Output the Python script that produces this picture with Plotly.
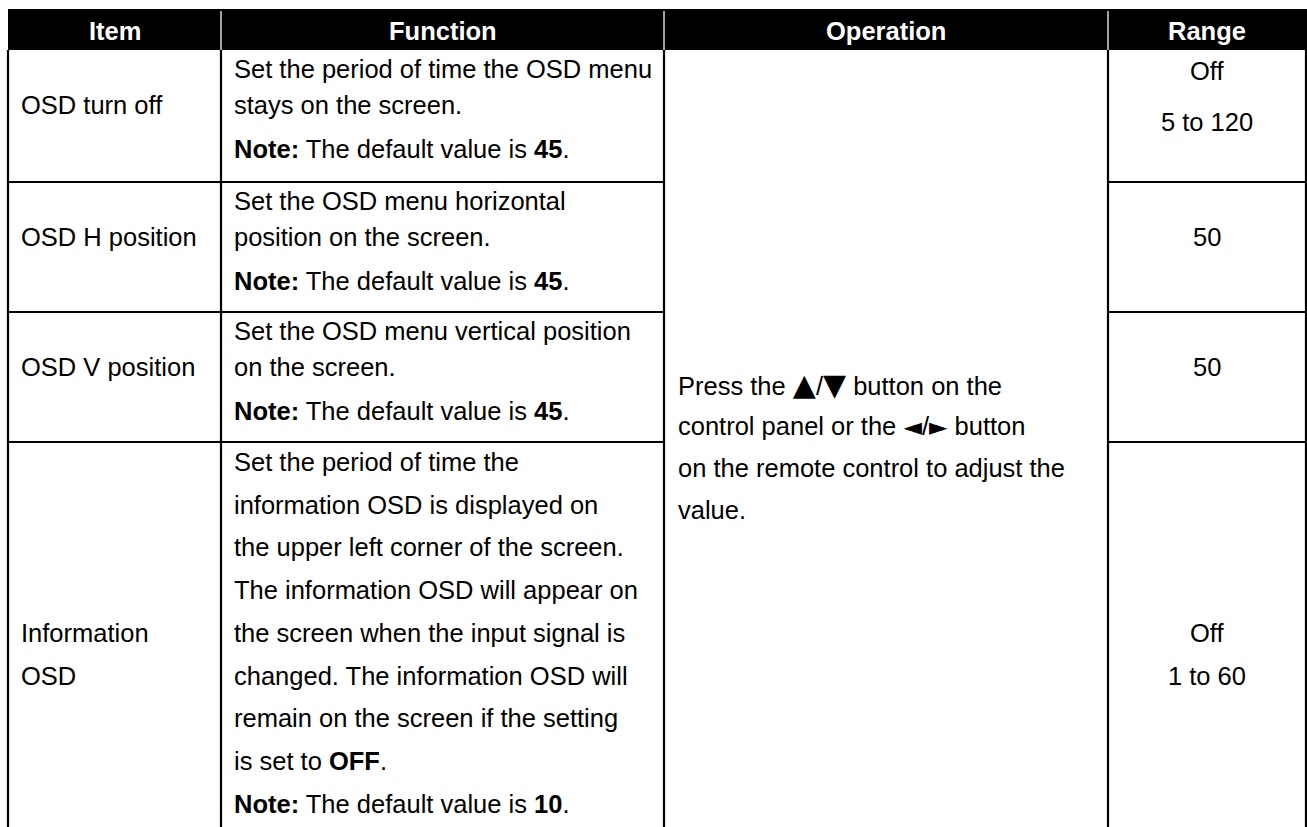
import plotly.graph_objects as go

# ---- data ----
headers = ["Item", "Function", "Operation", "Range"]
items = [["OSD turn off"], ["OSD H position"], ["OSD V position"], ["Information", "OSD"]]
functions = [
    ["Set the period of time the OSD menu", "stays on the screen.",
     "<b>Note:</b> The default value is <b>45</b>."],
    ["Set the OSD menu horizontal", "position on the screen.",
     "<b>Note:</b> The default value is <b>45</b>."],
    ["Set the OSD menu vertical position", "on the screen.",
     "<b>Note:</b> The default value is <b>45</b>."],
    ["Set the period of time the", "information OSD is displayed on",
     "the upper left corner of the screen.", "The information OSD will appear on",
     "the screen when the input signal is", "changed. The information OSD will",
     "remain on the screen if the setting", "is set to <b>OFF</b>.",
     "<b>Note:</b> The default value is <b>10</b>."],
]
up_down = ["▲", "▼"]
left_right = ["◄", "►"]
operation = ["Press the {a}/{b} button on the", "control panel or the {c}/{d} button",
             "on the remote control to adjust the", "value."]
ranges = [["Off", "5 to 120"], ["50"], ["50"], ["Off", "1 to 60"]]

# ---- layout geometry (styles); coordinates are page pixels ----
W, H = 1307, 827
cols = [8, 221, 664, 1108, 1306]
head_top, head_bot = 9, 50
row_bounds = [50, 182, 312, 442, 900]
FONT = "Liberation Sans, Arial, Helvetica, sans-serif"
FS = 25.5

small_rows = [19, 55, 99]                            # rows 1-3 (note has extra gap)
big_row = [20 + 42.7 * k for k in range(9)]          # row 4
item_y = [[55], [55], [55], [big_row[4], big_row[5]]]
range_y = [[21, 72], [55], [55], [big_row[4], big_row[5]]]
op_first_y, op_ls = 384, 42

shapes, annos = [], []

shapes.append(dict(type="rect", x0=cols[0], x1=W + 2, y0=head_top, y1=head_bot,
                   fillcolor="black", line=dict(width=0), layer="below"))
for cx in cols[1:4]:
    shapes.append(dict(type="line", x0=cx, x1=cx, y0=head_top + 2, y1=head_bot,
                       line=dict(color="#d9d9d9", width=1.5)))
for i, h in enumerate(headers):
    annos.append(dict(x=(cols[i] + cols[i + 1]) / 2, y=(head_top + head_bot) / 2 + 1,
                      text=f"<b>{h}</b>", showarrow=False, xanchor="center", yanchor="middle",
                      font=dict(family=FONT, size=FS, color="white")))

for cx in cols:
    shapes.append(dict(type="line", x0=cx, x1=cx, y0=head_bot, y1=H + 20,
                       line=dict(color="black", width=2.2)))
for yb in row_bounds[1:4]:
    shapes.append(dict(type="line", x0=cols[0], x1=cols[2], y0=yb, y1=yb,
                       line=dict(color="black", width=2.2)))
    shapes.append(dict(type="line", x0=cols[3], x1=cols[4], y0=yb, y1=yb,
                       line=dict(color="black", width=2.2)))

def txt(x, y, t, anchor="left"):
    annos.append(dict(x=x, y=y, text=t, showarrow=False, xanchor=anchor, yanchor="middle",
                      font=dict(family=FONT, size=FS, color="black")))

for r in range(4):
    top = row_bounds[r]
    offs = small_rows if r < 3 else big_row
    for k, t in enumerate(functions[r]):
        txt(cols[1] + 11, top + offs[k], t)
    for t, dy in zip(items[r], item_y[r]):
        txt(cols[0] + 11, top + dy, t)
    for t, dy in zip(ranges[r], range_y[r]):
        txt((cols[3] + cols[4]) / 2, top + dy, t, "center")

def glyph(g, size):
    return f'<span style="font-size:{size}px;font-family:DejaVu Sans">{g}</span>'

fmt = dict(a=glyph(up_down[0], 30), b=glyph(up_down[1], 30),
           c=glyph(left_right[0], 24), d=glyph(left_right[1], 24))
for k, t in enumerate(operation):
    txt(cols[2] + 12, op_first_y + k * op_ls, t.format(**fmt))

fig = go.Figure()
fig.update_layout(
    width=W, height=H, margin=dict(l=0, r=0, t=0, b=0),
    paper_bgcolor="white", plot_bgcolor="white",
    xaxis=dict(range=[0, W], visible=False, fixedrange=True),
    yaxis=dict(range=[H, 0], visible=False, fixedrange=True),
    shapes=shapes, annotations=annos, showlegend=False,
)
# remove the default 8px body margin so the figure fills the window exactly
fig.write_html("out.html",
               config={"displayModeBar": False, "staticPlot": True},
               post_script="document.body.style.margin='0px';"
                           "document.documentElement.style.overflow='hidden';")
